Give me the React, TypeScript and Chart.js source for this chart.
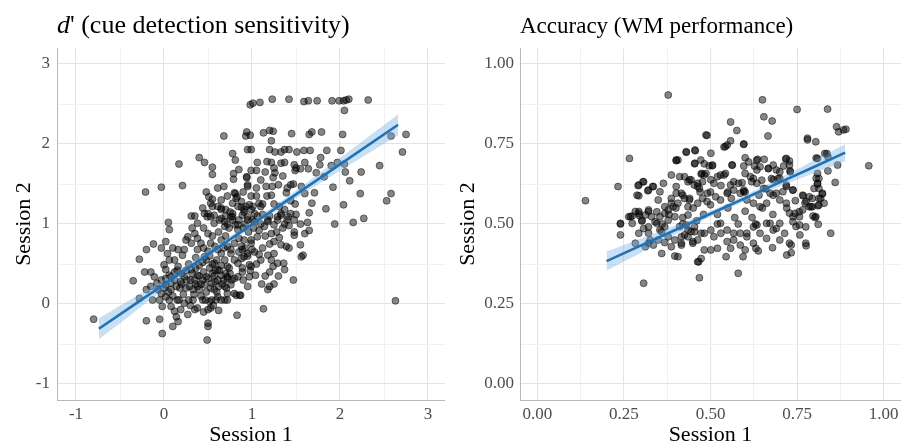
import React, { useEffect, useRef } from "react";
import { Chart, registerables } from "chart.js";

Chart.register(...registerables);

// ---------------- DATA ----------------
// d' panel: [session1, session2]
const dprimePoints: [number, number][] = [
  [0.98, 2.49], [0.68, 2.10], [0.94, 2.15], [0.93, 2.10], [0.40, 1.83], [0.46, 1.77], [0.17, 1.75], [0.55, 1.71],
  [0.55, 1.62], [0.78, 1.88], [0.81, 1.80], [0.85, 1.68], [0.79, 1.63], [0.79, 1.56], [0.95, 1.93], [0.94, 1.58],
  [0.95, 1.49], [-0.21, 1.40], [-0.03, 1.46], [0.21, 1.48], [0.48, 1.40], [0.61, 1.45], [0.68, 1.47], [0.51, 1.34],
  [0.55, 1.31], [0.44, 1.20], [0.55, 1.22], [0.65, 1.20], [0.81, 1.38], [0.83, 1.34], [0.78, 1.26], [0.88, 1.21],
  [0.99, 1.18], [0.05, 1.02], [0.06, 0.93], [0.31, 1.10], [0.35, 1.10], [0.38, 1.01], [0.50, 1.13], [0.53, 1.09],
  [0.57, 1.01], [0.63, 1.05], [0.69, 1.03], [0.75, 1.15], [0.78, 1.09], [0.89, 1.11], [0.81, 0.99],
  [1.01, 2.51], [1.09, 2.52], [1.23, 2.56], [1.42, 2.56], [1.59, 2.53], [1.64, 2.54], [1.74, 2.54], [1.91, 2.54],
  [1.99, 2.54], [2.04, 2.54], [2.07, 2.55], [2.10, 2.56], [2.05, 2.42], [2.32, 2.55],
  [0.98, 2.11], [1.13, 2.14], [1.20, 2.17], [1.24, 2.16], [1.22, 2.04], [1.45, 2.13], [1.65, 2.12], [1.68, 2.15],
  [1.79, 2.15], [2.03, 2.12], [2.58, 2.10], [2.75, 2.12], [2.71, 1.90],
  [0.99, 1.93], [1.20, 1.93], [1.26, 1.90], [1.33, 1.90], [1.37, 1.93], [1.42, 1.93], [1.51, 1.90], [1.59, 1.92],
  [1.66, 1.92], [1.85, 1.92], [2.01, 1.92], [1.78, 1.83], [2.45, 1.73], [2.24, 1.65], [2.11, 1.54], [2.05, 1.75],
  [2.06, 1.65], [1.97, 1.77], [1.90, 1.73], [1.82, 1.59], [1.77, 1.74], [1.73, 1.64], [1.64, 1.69], [1.60, 1.77],
  [1.55, 1.69], [1.48, 1.74], [1.49, 1.67], [1.50, 1.70], [1.37, 1.77], [1.33, 1.76], [1.22, 1.77], [1.17, 1.78],
  [1.06, 1.77], [0.94, 1.59], [0.99, 1.67], [1.05, 1.67], [1.24, 1.58], [1.26, 1.64], [1.30, 1.49], [1.23, 1.47],
  [1.44, 1.49], [1.47, 1.50], [1.56, 1.47], [1.71, 1.39], [1.60, 1.38], [1.92, 1.46], [1.84, 1.19], [2.04, 1.24],
  [2.23, 1.38], [2.53, 1.29], [2.58, 1.38], [2.27, 1.07], [2.15, 1.02], [1.94, 1.00], [1.65, 1.14], [1.68, 1.26],
  [1.63, 1.02], [1.48, 1.05], [1.49, 1.25], [1.39, 1.39], [1.44, 1.29],
  [0.80, 1.39], [0.82, 1.32], [0.88, 1.28], [0.93, 1.22], [0.97, 1.24], [1.01, 1.22], [1.08, 1.26], [1.12, 1.25],
  [0.95, 1.47], [0.99, 1.35], [1.16, 1.47], [1.17, 1.35], [1.22, 1.36], [1.31, 1.22], [1.37, 1.18], [1.44, 1.13],
  [1.33, 1.11], [0.49, 1.09], [0.57, 1.11], [0.65, 1.07], [0.72, 1.00], [0.78, 1.05], [0.84, 0.99], [0.95, 1.09],
  [1.03, 1.03], [1.10, 1.00], [1.18, 1.03], [1.25, 0.99], [1.29, 1.09], [1.37, 1.00], [1.40, 1.05],
  [-0.80, -0.19], [-0.35, 0.29], [-0.28, 0.56], [-0.20, 0.68], [-0.12, 0.75], [-0.03, 0.70], [0.02, 0.78],
  [-0.22, 0.40], [-0.15, 0.40], [-0.11, 0.34], [-0.20, 0.18], [-0.15, 0.22], [-0.07, 0.18], [-0.13, 0.05],
  [-0.20, -0.21], [-0.05, -0.19], [-0.02, -0.37], [-0.28, 0.07],
  [0.00, 0.49], [0.06, 0.55], [0.02, 0.43], [0.12, 0.40], [0.08, 0.34], [-0.03, 0.30], [0.02, 0.24], [0.08, 0.26],
  [0.14, 0.22], [0.19, 0.28], [-0.05, 0.05], [-0.02, -0.03], [0.02, 0.09], [-0.03, 0.13], [0.06, 0.05], [0.08, -0.03],
  [0.12, -0.09], [0.14, -0.16], [0.10, -0.28], [0.16, -0.22], [0.19, -0.07], [0.27, -0.13], [0.23, 0.01], [0.17, 0.05],
  [0.35, -0.07], [0.44, 0.05], [0.50, -0.07], [0.50, -0.24], [0.50, -0.28], [0.49, -0.45],
  [0.54, 0.05], [0.61, 0.09], [0.69, 0.05], [0.72, 0.13], [0.82, 0.11], [0.83, -0.14], [0.87, 0.11],
  [0.23, 0.34], [0.29, 0.22], [0.31, 0.43], [0.35, 0.30], [0.38, 0.36], [0.40, 0.18], [0.46, 0.24], [0.48, 0.34],
  [0.54, 0.26], [0.57, 0.18], [0.61, 0.30], [0.65, 0.36], [0.69, 0.22], [0.72, 0.32], [0.76, 0.24], [0.80, 0.13],
  [0.84, 0.34], [0.89, 0.40], [0.95, 0.22], [0.97, 0.34], [0.99, 0.47],
  [0.46, 1.13], [0.50, 0.88], [0.65, 1.18], [0.69, 0.97], [0.76, 1.09], [0.84, 0.93], [0.91, 1.18], [0.95, 1.05],
  [0.99, 0.80], [0.31, 0.76], [0.38, 0.68], [0.46, 0.59], [0.53, 0.76], [0.61, 0.68], [0.69, 0.55], [0.76, 0.68],
  [0.84, 0.51], [0.91, 0.59], [0.23, 0.68], [0.27, 0.84], [0.35, 0.88], [0.42, 0.76], [0.50, 0.66], [0.57, 0.51],
  [0.65, 0.80], [0.72, 0.47], [0.80, 0.76], [0.89, 0.68], [0.97, 0.49], [0.12, 0.55], [0.16, 0.47], [0.21, 0.61],
  [0.16, 0.68], [0.04, 0.63],
  [2.63, 0.04], [1.13, -0.06], [1.47, 0.30], [1.20, 0.22], [1.18, 0.18], [1.11, 0.25], [1.04, 0.36], [1.37, 0.43],
  [1.36, 0.51], [1.39, 0.72], [1.42, 0.70], [1.31, 0.83], [1.33, 0.74], [1.56, 0.59], [1.58, 0.61], [1.55, 0.74],
  [1.48, 0.86], [1.48, 0.90], [1.60, 0.88], [1.65, 0.92],
  [0.86, 0.11], [0.72, 0.05], [0.65, 0.05], [0.59, 0.05], [0.53, -0.05], [0.52, 0.03],
  [1.03, 0.65], [1.10, 0.55], [1.18, 0.61], [1.22, 0.55], [1.20, 0.40], [1.24, 0.47], [1.29, 0.51], [1.25, 0.63],
  [0.95, 0.63], [0.89, 0.45], [0.80, 0.55], [0.76, 0.63], [0.72, 0.72], [0.65, 0.63], [0.61, 0.43], [0.72, 0.34],
  [0.80, 0.32], [0.88, 0.57], [0.91, 0.80], [0.99, 0.76], [1.06, 0.84], [1.14, 0.97], [1.18, 1.05], [1.22, 0.88],
  [1.29, 1.05], [1.33, 1.13], [1.41, 1.09], [1.10, 1.22], [1.03, 1.13], [0.91, 1.15], [0.84, 1.22], [0.78, 1.13],
  [0.70, 1.18], [0.61, 1.22], [0.53, 1.26],
  [0.05, 0.15], [0.10, 0.10], [0.12, 0.30], [0.18, 0.20], [0.22, 0.12], [0.25, 0.42], [0.28, 0.05], [0.30, 0.30],
  [0.33, 0.18], [0.36, 0.45], [0.40, 0.35], [0.42, 0.10], [0.45, 0.40], [0.48, 0.15], [0.50, 0.32], [0.52, 0.45],
  [0.55, 0.38], [0.58, 0.28], [0.60, 0.15], [0.63, 0.42], [0.66, 0.25], [0.70, 0.38], [0.74, 0.45], [0.77, 0.30],
  [0.30, -0.02], [0.38, -0.05], [0.45, -0.10], [0.56, -0.02], [0.62, -0.08], [0.36, 0.58], [0.44, 0.52], [0.52, 0.60],
  [0.60, 0.55], [0.28, 0.50], [0.20, 0.38], [0.42, 0.25], [0.34, 0.12], [0.06, 0.36], [-0.08, 0.26], [0.10, 0.70],
  [0.25, 0.80], [0.32, 0.95],
  [0.62, 0.90], [0.70, 0.85], [0.74, 0.95], [0.85, 0.82], [0.90, 0.95], [0.96, 0.90], [1.02, 0.95], [1.06, 1.10],
  [1.12, 1.12], [1.20, 0.75], [1.25, 0.78], [1.28, 0.90], [1.35, 0.95], [1.42, 0.98], [1.50, 1.12], [1.55, 1.00],
  [1.12, 0.70], [1.05, 0.50], [0.98, 0.42], [0.90, 0.30], [1.15, 0.35], [1.30, 0.35], [1.25, 0.25], [0.95, 0.60],
  [0.88, 0.72], [0.55, 0.85], [0.45, 0.95], [0.65, 1.30], [0.72, 1.35], [0.90, 1.40], [1.05, 1.45], [1.10, 1.55],
  [1.15, 1.65], [1.25, 1.70], [1.35, 1.60], [1.05, 1.35], [1.25, 1.25], [1.40, 1.45],
  [0.02, 0.32], [0.08, 0.18], [0.15, 0.05], [0.20, 0.25], [0.26, 0.30], [0.32, 0.38], [0.38, 0.22], [0.44, 0.30],
  [0.47, 0.05], [0.53, 0.20], [0.57, 0.35], [0.62, 0.22], [0.68, 0.30], [0.71, 0.20], [0.75, 0.38], [0.40, 0.48],
  [0.48, 0.55], [0.55, 0.50], [0.65, 0.48], [0.33, 0.05], [0.25, 0.20], [0.15, 0.42], [0.00, 0.20], [0.36, 0.25],
  [0.58, 0.42], [0.70, 1.10], [0.85, 1.05], [0.92, 1.00], [1.00, 1.05], [1.08, 0.92], [1.15, 0.85], [1.20, 1.10],
  [0.85, 0.65], [0.92, 0.70], [1.00, 0.68], [1.08, 0.62], [0.68, 0.70], [0.58, 0.72], [0.45, 0.70], [0.38, 0.82],
];

// d' fitted line + 95% band
const dprimeFitX = [-0.74, -0.4, 0, 0.5, 1, 1.5, 2, 2.66];
const dprimeFitY = [-0.31, -0.055, 0.245, 0.62, 0.995, 1.37, 1.745, 2.24];
const dprimeBandLow = [-0.44, -0.155, 0.18, 0.575, 0.955, 1.32, 1.665, 2.11];
const dprimeBandHigh = [-0.18, 0.045, 0.31, 0.665, 1.035, 1.42, 1.825, 2.37];

// Accuracy panel: [session1, session2]
const accPoints: [number, number][] = [
  [0.378, 0.903], [0.139, 0.573], [0.233, 0.617], [0.266, 0.705], [0.291, 0.62], [0.305, 0.632], [0.293, 0.588],
  [0.333, 0.617], [0.319, 0.604], [0.354, 0.601], [0.364, 0.627],
  [0.387, 0.653], [0.411, 0.648], [0.401, 0.70], [0.43, 0.726], [0.455, 0.731], [0.472, 0.70], [0.475, 0.658],
  [0.487, 0.778], [0.455, 0.69], [0.439, 0.638], [0.453, 0.622], [0.468, 0.611], [0.401, 0.617], [0.42, 0.59],
  [0.439, 0.575], [0.387, 0.565], [0.368, 0.554], [0.345, 0.538], [0.321, 0.544], [0.293, 0.533], [0.274, 0.525],
  [0.264, 0.523],
  [0.65, 0.888], [0.75, 0.858], [0.838, 0.859], [0.654, 0.835], [0.678, 0.822], [0.558, 0.819], [0.576, 0.792],
  [0.666, 0.775], [0.49, 0.777], [0.864, 0.804], [0.870, 0.788], [0.884, 0.794], [0.891, 0.796], [0.780, 0.768],
  [0.804, 0.757], [0.558, 0.760], [0.543, 0.742], [0.596, 0.749], [0.957, 0.682],
  [0.43, 0.724], [0.501, 0.721], [0.454, 0.688], [0.496, 0.682], [0.505, 0.682],
  [0.563, 0.684], [0.596, 0.681], [0.60, 0.707], [0.636, 0.702], [0.655, 0.702], [0.627, 0.681], [0.634, 0.669],
  [0.667, 0.674], [0.69, 0.669], [0.717, 0.703], [0.728, 0.697], [0.711, 0.681], [0.730, 0.666],
  [0.805, 0.706], [0.836, 0.72], [0.839, 0.71], [0.867, 0.684], [0.839, 0.666], [0.809, 0.658], [0.805, 0.643],
  [0.860, 0.63], [0.809, 0.625], [0.799, 0.611], [0.823, 0.594], [0.818, 0.58], [0.794, 0.58], [0.810, 0.557],
  [0.768, 0.588], [0.785, 0.554], [0.773, 0.565], [0.745, 0.573], [0.744, 0.533], [0.756, 0.538], [0.796, 0.525],
  [0.406, 0.70], [0.425, 0.648], [0.444, 0.638], [0.463, 0.617], [0.482, 0.653], [0.501, 0.638], [0.52, 0.648],
  [0.539, 0.653], [0.558, 0.622], [0.581, 0.627], [0.596, 0.606], [0.615, 0.648], [0.634, 0.627], [0.653, 0.611],
  [0.672, 0.596], [0.69, 0.596], [0.709, 0.601], [0.719, 0.617], [0.738, 0.606], [0.681, 0.638], [0.70, 0.643],
  [0.307, 0.315], [0.468, 0.332], [0.24, 0.50], [0.24, 0.466], [0.295, 0.526], [0.302, 0.509], [0.312, 0.528],
  [0.33, 0.523], [0.345, 0.502], [0.359, 0.476], [0.321, 0.471], [0.307, 0.486], [0.293, 0.471], [0.283, 0.44],
  [0.312, 0.429], [0.321, 0.44], [0.335, 0.434], [0.359, 0.408], [0.368, 0.442], [0.387, 0.429], [0.397, 0.40],
  [0.406, 0.398], [0.416, 0.434], [0.435, 0.46], [0.449, 0.445], [0.463, 0.382], [0.473, 0.392], [0.482, 0.419],
  [0.444, 0.476], [0.43, 0.497], [0.411, 0.492], [0.397, 0.523], [0.378, 0.512], [0.368, 0.533], [0.354, 0.523],
  [0.58, 0.346], [0.466, 0.382],
  [0.545, 0.398], [0.558, 0.424], [0.594, 0.398], [0.60, 0.419], [0.638, 0.416], [0.631, 0.424], [0.679, 0.426],
  [0.72, 0.403], [0.733, 0.41], [0.733, 0.434], [0.776, 0.432], [0.847, 0.471], [0.811, 0.499], [0.802, 0.52],
  [0.758, 0.466], [0.747, 0.492], [0.714, 0.471], [0.69, 0.486], [0.662, 0.455], [0.624, 0.44], [0.586, 0.434],
  [0.548, 0.445], [0.52, 0.424], [0.501, 0.419], [0.449, 0.44], [0.416, 0.44], [0.425, 0.466], [0.454, 0.476],
  [0.473, 0.471], [0.501, 0.481], [0.53, 0.471], [0.567, 0.471], [0.605, 0.471], [0.634, 0.497], [0.672, 0.502],
  [0.70, 0.502], [0.738, 0.523], [0.766, 0.544], [0.79, 0.554], [0.813, 0.559], [0.776, 0.57],
  [0.401, 0.698], [0.456, 0.729], [0.482, 0.688], [0.506, 0.684], [0.487, 0.658], [0.473, 0.656],
  [0.539, 0.741], [0.548, 0.747], [0.596, 0.75], [0.562, 0.684], [0.61, 0.694], [0.60, 0.658], [0.633, 0.699],
  [0.643, 0.679], [0.667, 0.673], [0.681, 0.684], [0.70, 0.663], [0.719, 0.705], [0.728, 0.684], [0.73, 0.663],
  [0.78, 0.763], [0.809, 0.705], [0.83, 0.72],
  [0.435, 0.632], [0.463, 0.627], [0.477, 0.632], [0.51, 0.627], [0.529, 0.653], [0.543, 0.658], [0.567, 0.632],
  [0.591, 0.629], [0.619, 0.632], [0.624, 0.642], [0.648, 0.637], [0.676, 0.642], [0.695, 0.642], [0.719, 0.622],
  [0.738, 0.606], [0.766, 0.59], [0.785, 0.585], [0.813, 0.642], [0.809, 0.627], [0.813, 0.611], [0.823, 0.596],
  [0.293, 0.622], [0.307, 0.632], [0.288, 0.59], [0.321, 0.606], [0.335, 0.617], [0.349, 0.575], [0.387, 0.58],
  [0.401, 0.596], [0.416, 0.596], [0.321, 0.539], [0.293, 0.539], [0.269, 0.523], [0.283, 0.539], [0.24, 0.502],
  [0.274, 0.502], [0.302, 0.512], [0.321, 0.491], [0.34, 0.507], [0.354, 0.481], [0.378, 0.544], [0.392, 0.554],
  [0.406, 0.565], [0.425, 0.58], [0.435, 0.554], [0.435, 0.528], [0.463, 0.565], [0.477, 0.58], [0.491, 0.596],
  [0.515, 0.585], [0.529, 0.575], [0.548, 0.596], [0.567, 0.606], [0.586, 0.596], [0.596, 0.601], [0.605, 0.575],
  [0.624, 0.565], [0.643, 0.554], [0.662, 0.565], [0.681, 0.59], [0.70, 0.575],
  [0.719, 0.565], [0.728, 0.534], [0.738, 0.507], [0.757, 0.523], [0.757, 0.497], [0.775, 0.491], [0.794, 0.554],
  [0.804, 0.523], [0.813, 0.58], [0.828, 0.565], [0.775, 0.44], [0.728, 0.44], [0.70, 0.45], [0.681, 0.481],
  [0.662, 0.502], [0.643, 0.471], [0.624, 0.491], [0.605, 0.46], [0.586, 0.471], [0.567, 0.45], [0.548, 0.481],
  [0.529, 0.502], [0.51, 0.46], [0.482, 0.471], [0.463, 0.45], [0.454, 0.491], [0.435, 0.481], [0.416, 0.46],
  [0.397, 0.45], [0.378, 0.46], [0.368, 0.491], [0.349, 0.45], [0.326, 0.45],
  [0.36, 0.50], [0.38, 0.53], [0.42, 0.52], [0.45, 0.55], [0.48, 0.53], [0.50, 0.56], [0.52, 0.53], [0.55, 0.55],
  [0.57, 0.52], [0.60, 0.54], [0.62, 0.52], [0.65, 0.55], [0.68, 0.53], [0.52, 0.50], [0.56, 0.58], [0.60, 0.60],
  [0.44, 0.58], [0.40, 0.55], [0.47, 0.60], [0.53, 0.62], [0.58, 0.50], [0.64, 0.59], [0.66, 0.61], [0.72, 0.55],
  [0.50, 0.60], [0.42, 0.50], [0.46, 0.51], [0.49, 0.57], [0.55, 0.60], [0.63, 0.50],
];

// Accuracy fitted line + 95% band
const accFitX = [0.2, 0.3, 0.4, 0.5, 0.6, 0.7, 0.8, 0.889];
const accFitY = [0.384, 0.433, 0.482, 0.532, 0.581, 0.63, 0.679, 0.723];
const accBandLow = [0.354, 0.411, 0.468, 0.523, 0.572, 0.617, 0.659, 0.696];
const accBandHigh = [0.414, 0.455, 0.496, 0.541, 0.59, 0.643, 0.699, 0.75];

// Axis ticks
const dprimeMajorTicks = [-1, 0, 1, 2, 3];
const dprimeMajorLabels = ["-1", "0", "1", "2", "3"];
const dprimeMinorTicks = [-0.5, 0.5, 1.5, 2.5];
const accMajorTicks = [0, 0.25, 0.5, 0.75, 1];
const accMajorLabels = ["0.00", "0.25", "0.50", "0.75", "1.00"];
const accMinorTicks = [0.125, 0.375, 0.625, 0.875];

const xTitle = "Session 1";
const yTitle = "Session 2";

// ---------------- RENDERING ----------------
const SERIF = "'Liberation Serif', 'Times New Roman', serif";

const titlePlugin = {
  id: "panelTitle",
  afterDraw(chart: any, _args: any, opts: any) {
    const ctx = chart.ctx;
    ctx.save();
    ctx.fillStyle = "#000";
    ctx.textBaseline = "alphabetic";
    ctx.textAlign = "left";
    let x = chart.chartArea.left;
    for (const seg of opts.segments || []) {
      ctx.font = `${seg.italic ? "italic " : ""}${opts.size}px ${SERIF}`;
      ctx.fillText(seg.text, x, 33);
      x += ctx.measureText(seg.text).width;
    }
    ctx.restore();
  },
};

function axis(
  min: number,
  max: number,
  major: number[],
  labels: string[],
  minor: number[],
  title: string,
  horizontal: boolean,
  fitSize: number,
  titlePad: number,
  tickPad: number
) {
  const all = [...major, ...minor].sort((a, b) => a - b);
  const isMajor = (v: number) => major.some((m) => Math.abs(m - v) < 1e-9);
  return {
    type: "linear",
    min,
    max,
    afterBuildTicks: (scale: any) => {
      scale.ticks = all.map((v) => ({ value: v }));
    },
    afterFit: (scale: any) => {
      if (horizontal) scale.height = fitSize;
      else scale.width = fitSize;
    },
    grid: {
      drawTicks: false,
      color: (c: any) => (c.tick && isMajor(c.tick.value) ? "#e4e4e4" : "#efefef"),
      lineWidth: (c: any) => (c.tick && isMajor(c.tick.value) ? 1.1 : 0.9),
    },
    border: { display: true, color: "#b8b8b8", width: 1 },
    ticks: {
      autoSkip: false,
      maxRotation: 0,
      padding: tickPad,
      color: "#4d4d4d",
      font: { family: SERIF, size: 17 },
      callback: (v: any) => {
        const i = major.findIndex((m) => Math.abs(m - Number(v)) < 1e-9);
        return i >= 0 ? labels[i] : "";
      },
    },
    title: {
      display: true,
      text: title,
      color: "#000",
      font: { family: SERIF, size: 22, lineHeight: 1 },
      padding: horizontal ? { top: 0, bottom: titlePad } : { top: titlePad, bottom: 0 },
    },
  };
}

function buildConfig(spec: any) {
  const pts = spec.points.map(([x, y]: [number, number]) => ({ x, y }));
  return {
    type: "scatter",
    data: {
      datasets: [
        {
          type: "scatter",
          data: pts,
          backgroundColor: "rgba(0,0,0,0.48)",
          borderColor: "rgba(0,0,0,0.48)",
          borderWidth: 1,
          pointRadius: 3.5,
          order: 3,
        },
        {
          type: "line",
          data: spec.fitX.map((x: number, i: number) => ({ x, y: spec.low[i] })),
          borderWidth: 0,
          borderColor: "rgba(0,0,0,0)",
          pointRadius: 0,
          fill: false,
          tension: 0.3,
          order: 2,
        },
        {
          type: "line",
          data: spec.fitX.map((x: number, i: number) => ({ x, y: spec.high[i] })),
          borderWidth: 0,
          borderColor: "rgba(0,0,0,0)",
          pointRadius: 0,
          fill: "-1",
          backgroundColor: "rgba(110,170,225,0.38)",
          tension: 0.3,
          order: 2,
        },
        {
          type: "line",
          data: spec.fitX.map((x: number, i: number) => ({ x, y: spec.fitY[i] })),
          borderColor: "#2172b4",
          borderWidth: 2.6,
          pointRadius: 0,
          fill: false,
          order: 1,
        },
      ],
    },
    options: {
      responsive: false,
      animation: false,
      devicePixelRatio: 1,
      events: [],
      layout: { padding: spec.padding },
      plugins: {
        legend: { display: false },
        tooltip: { enabled: false },
        panelTitle: { segments: spec.title, size: spec.titleSize },
      },
      scales: {
        x: spec.x,
        y: spec.y,
      },
    },
    plugins: [titlePlugin],
  };
}

function Panel({ spec, left }: { spec: any; left: number }) {
  const ref = useRef<HTMLCanvasElement | null>(null);
  useEffect(() => {
    if (!ref.current) return;
    const chart = new Chart(ref.current, buildConfig(spec) as any);
    return () => chart.destroy();
  }, [spec]);
  return (
    <canvas
      ref={ref}
      width={453}
      height={446}
      style={{ position: "absolute", left, top: 0, width: 453, height: 446, display: "block" }}
    />
  );
}

const leftSpec = {
  points: dprimePoints,
  fitX: dprimeFitX,
  fitY: dprimeFitY,
  low: dprimeBandLow,
  high: dprimeBandHigh,
  title: [
    { text: "d", italic: true },
    { text: "' (cue detection sensitivity)", italic: false },
  ],
  titleSize: 26,
  padding: { top: 48, right: 8, left: 0, bottom: 0 },
  x: axis(-1.216, 3.193, dprimeMajorTicks, dprimeMajorLabels, dprimeMinorTicks, xTitle, true, 46, 0, 4),
  y: axis(-1.2, 3.2, dprimeMajorTicks, dprimeMajorLabels, dprimeMinorTicks, yTitle, false, 57, 13, 7),
};

const rightSpec = {
  points: accPoints,
  fitX: accFitX,
  fitY: accFitY,
  low: accBandLow,
  high: accBandHigh,
  title: [{ text: "Accuracy (WM performance)", italic: false }],
  titleSize: 23,
  padding: { top: 48, right: 0, left: 0, bottom: 0 },
  x: axis(-0.05, 1.05, accMajorTicks, accMajorLabels, accMinorTicks, xTitle, true, 46, 0, 4),
  y: axis(-0.05, 1.05, accMajorTicks, accMajorLabels, accMinorTicks, yTitle, false, 67, 4, 6),
};

export default function App() {
  return (
    <div style={{ position: "absolute", left: 0, top: 0, width: 906, height: 446, background: "#fff" }}>
      <Panel spec={leftSpec} left={0} />
      <Panel spec={rightSpec} left={453} />
    </div>
  );
}
